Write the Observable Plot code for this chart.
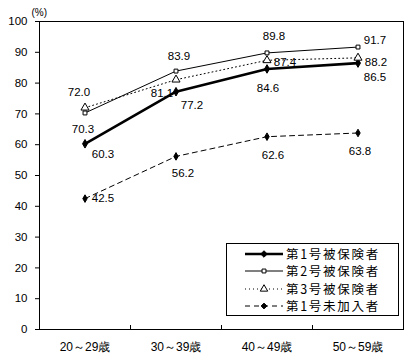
<!DOCTYPE html>
<html>
<head>
<meta charset="utf-8">
<script src="https://cdn.jsdelivr.net/npm/d3@7"></script>
<script src="https://cdn.jsdelivr.net/npm/@observablehq/plot@0.6"></script>
<style>
  html, body { margin: 0; padding: 0; background: #fff; }
  #wrap { position: relative; width: 410px; height: 356px; font-family: "Liberation Sans", Arial, sans-serif; }
  #legend { position: absolute; left: 226px; top: 243px; width: 171px; height: 70px; border: 1px solid #000; background: #fff; padding-top: 1px; }
  .row { display: flex; align-items: center; height: 17.5px; overflow: hidden; }
  .row svg { margin-left: 18px; margin-right: 3px; flex: none; }
  .row span { font-family: "Noto Sans CJK JP", sans-serif; font-size: 12.5px; letter-spacing: 1.7px; line-height: 14px; color: #000; white-space: nowrap; }
</style>
</head>
<body>
<div id="wrap"><div id="chart"></div><div id="legend"></div></div>
<script>
const categories = ["20～29歳", "30～39歳", "40～49歳", "50～59歳"];
const seriesNames = ["第1号被保険者", "第2号被保険者", "第3号被保険者", "第1号未加入者"];
const s1 = [60.3, 77.2, 84.6, 86.5];
const s2 = [70.3, 83.9, 89.8, 91.7];
const s3 = [72.0, 81.1, 87.4, 88.2];
const s4 = [42.5, 56.2, 62.6, 63.8];
const yTicks = [0, 10, 20, 30, 40, 50, 60, 70, 80, 90, 100];

const seriesValues = [s1, s2, s3, s4];
// label offsets (styling only)
const labelOffsets = [
  [[18, 11], [16, 14], [1, 19], [17, 14]],
  [[-2, 16], [3, -15], [7, -17], [17, -7]],
  [[-6, -15], [-14, 14], [18, 2], [18, 4]],
  [[18, 0], [7, 17], [6, 19], [2, 18]]
];
const styles = [
  {strokeWidth: 2.6, dash: null, symbol: "diamond", fill: "#000", r: 2.6},
  {strokeWidth: 1, dash: null, symbol: "square", fill: "#fff", r: 2.2},
  {strokeWidth: 1, dash: "1,3", symbol: "triangle", fill: "#fff", r: 3},
  {strokeWidth: 1, dash: "5,4", symbol: "diamond", fill: "#000", r: 2.3}
];

const data = [];
seriesValues.forEach((vals, si) => vals.forEach((v, ci) => data.push({s: si, c: ci, x: ci + 0.5, y: v})));

const marks = [
  Plot.frame({stroke: "#000"}),
  Plot.ruleX([1, 2, 3], {y1: 0, y2: 0, insetTop: -4, stroke: "#000"}),
  Plot.axisY({ticks: yTicks, tickSize: 4, tickPadding: 8, fontSize: 11.5, label: null}),
  Plot.axisX({ticks: categories.map((_, i) => i + 0.5), tickSize: 0, tickPadding: 13, fontSize: 12,
    tickFormat: d => categories[Math.floor(d)], label: null}),
  Plot.text(["(%)"], {frameAnchor: "top-left", dx: -8, dy: -13, fontSize: 10, textAnchor: "start", text: d => d})
];
styles.forEach((st, si) => {
  const d = data.filter(p => p.s === si);
  marks.push(Plot.line(d, {x: "x", y: "y", stroke: "#000", strokeWidth: st.strokeWidth, strokeDasharray: st.dash}));
});
styles.forEach((st, si) => {
  const d = data.filter(p => p.s === si);
  marks.push(Plot.dot(d, {x: "x", y: "y", symbol: () => st.symbol, r: st.r, fill: st.fill, stroke: "#000", strokeWidth: 1}));
});
data.forEach(p => {
  const [dx, dy] = labelOffsets[p.s][p.c];
  marks.push(Plot.text([p], {x: "x", y: "y", text: q => q.y.toFixed(1), dx, dy, fontSize: 11.5, fill: "#000"}));
});

const chart = Plot.plot({
  width: 410,
  height: 356,
  marginLeft: 39,
  marginRight: 7,
  marginTop: 21,
  marginBottom: 27,
  style: {fontFamily: "'Liberation Sans', Arial, sans-serif", color: "#000", background: "#fff"},
  x: {type: "linear", domain: [0, 4], axis: null},
  y: {domain: [0, 100], axis: null},
  symbol: {type: "identity"},
  marks
});
document.getElementById("chart").appendChild(chart);

// legend
const legend = document.getElementById("legend");
styles.forEach((st, si) => {
  const row = document.createElement("div");
  row.className = "row";
  const svg = d3.create("svg").attr("width", 38).attr("height", 12);
  svg.append("line").attr("x1", 0).attr("x2", 38).attr("y1", 6).attr("y2", 6)
    .attr("stroke", "#000").attr("stroke-width", st.strokeWidth).attr("stroke-dasharray", st.dash);
  const sym = d3.symbol().type({diamond: d3.symbolDiamond2, square: d3.symbolSquare2, triangle: d3.symbolTriangle2}[st.symbol])
    .size(st.r * st.r * 4 * (st.symbol === "triangle" ? 1.1 : 1));
  svg.append("path").attr("transform", "translate(19,6)").attr("d", sym())
    .attr("fill", st.fill).attr("stroke", "#000");
  row.appendChild(svg.node());
  const span = document.createElement("span");
  span.textContent = seriesNames[si];
  row.appendChild(span);
  legend.appendChild(row);
});
</script>
</body>
</html>
